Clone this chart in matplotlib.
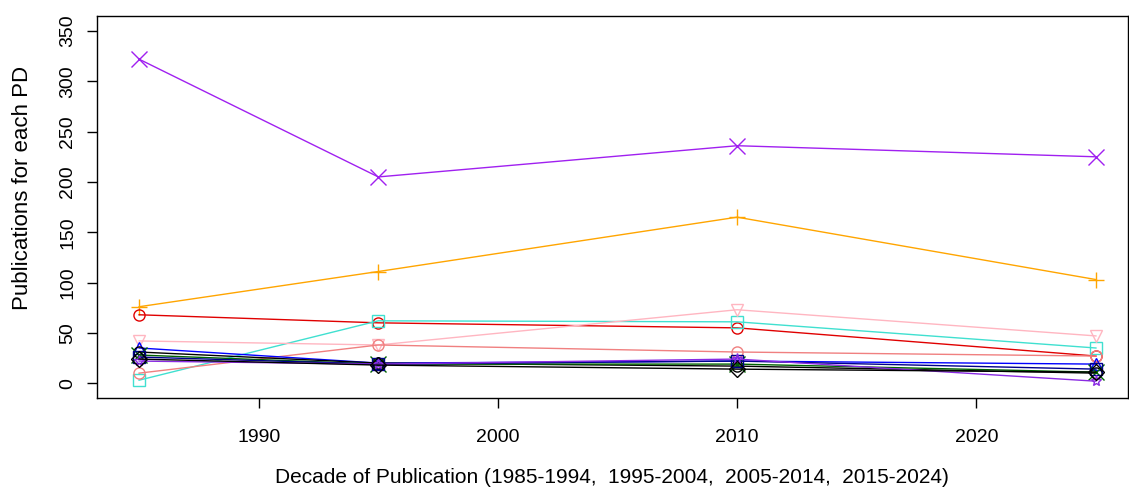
import numpy as np
import matplotlib
matplotlib.use("Agg")
import matplotlib.pyplot as plt

plt.rcParams['font.family'] = ['Liberation Sans', 'DejaVu Sans']

# decade midpoints used on the x axis
decades = [1985, 1995, 2010, 2025]

# publications per PD, one list per series
pd_purple = [322, 205, 236, 225]
pd_orange = [76, 111, 165, 103]
pd_red = [68, 60, 55, 27]
pd_turq = [3, 62, 61, 35]
pd_pink = [42, 38, 73, 47]
pd_salmon = [10, 38, 31, 27]
pd_blue = [35, 20, 22, 19]
pd_black = [31, 20, 17, 10]
pd_green = [28, 19, 19, 11]
pd_navy = [26, 19, 22, 14]
pd_violet = [22, 19, 24, 2]
pd_dark = [24, 18, 14, 11]

series = [
    (pd_purple, '#A020F0', 'x'),
    (pd_orange, '#FFA500', '+'),
    (pd_red, '#E00000', 'o'),
    (pd_turq, '#40E0D0', 's'),
    (pd_pink, '#FFB6C1', 'v'),
    (pd_salmon, '#F08080', 'o'),
    (pd_blue, '#0000FF', '^'),
    (pd_black, '#000000', 'o'),
    (pd_green, '#006400', 'x'),
    (pd_navy, '#00008B', 's'),
    (pd_violet, '#8A2BE2', '*'),
    (pd_dark, '#000000', 'D'),
]

fig = plt.figure(figsize=(11.29, 4.88), dpi=100)
ax = fig.add_axes([0.0859, 0.184, 0.913, 0.783])

for vals, col, mk in series:
    if mk in ('x', '+'):
        ax.plot(decades, vals, color=col, lw=1, marker=mk, ms=11, mew=1)
    else:
        ax.plot(decades, vals, color=col, lw=1, marker=mk, ms=8, mew=1,
                mfc='none', mec=col)

ax.set_xlim(1983.24, 2026.33)
ax.set_ylim(-14.9, 364.8)
ax.set_xticks([1990, 2000, 2010, 2020])
ax.set_yticks(np.arange(0, 351, 50))
ax.tick_params(direction='out', length=7, width=1, labelsize=14)
ax.tick_params(axis='x', pad=15)
ax.tick_params(axis='y', pad=8)
for lab in ax.get_yticklabels():
    lab.set_rotation(90)
    lab.set_va('center')
for s in ax.spines.values():
    s.set_linewidth(1)
    s.set_color('black')

ax.set_xlabel('Decade of Publication (1985-1994,  1995-2004,  2005-2014,  2015-2024)',
              fontsize=15, labelpad=16)
ax.set_ylabel('Publications for each PD', fontsize=16)
ax.yaxis.set_label_coords(-0.062, 0.55)

fig.savefig('out.png', dpi=100)
